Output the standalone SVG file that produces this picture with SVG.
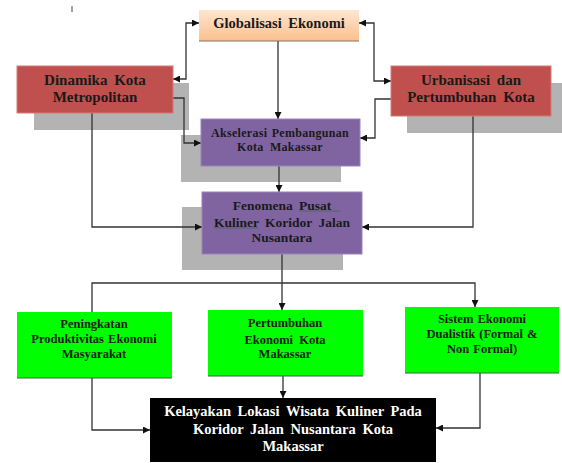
<svg xmlns="http://www.w3.org/2000/svg" width="562" height="463" viewBox="0 0 562 463">
<style>
.t{font-family:"Liberation Serif","Times New Roman",serif;font-weight:bold;fill:#1a1a1a;text-anchor:middle;word-spacing:3px}
.w{fill:#ffffff}
.sh{fill:#b3b3b3}
.red{fill:#c0504d;stroke:#d47a77;stroke-width:1}
.pur{fill:#8064a2;stroke:#9a84b8;stroke-width:1}
.grn{fill:#00ff00}
.c{fill:none;stroke:#333333;stroke-width:1.3}
</style>
<defs>
<linearGradient id="peach" x1="0" y1="0" x2="0" y2="1">
<stop offset="0" stop-color="#fee6d0"/>
<stop offset="1" stop-color="#fbc08d"/>
</linearGradient>
<marker id="ah" viewBox="0 0 10 10" refX="10" refY="5" markerWidth="7" markerHeight="7" markerUnits="userSpaceOnUse" orient="auto-start-reverse">
<path d="M0,0 L10,5 L0,10 z" fill="#111"/>
</marker>
</defs>
<line x1="72" y1="6" x2="72" y2="12" stroke="#444" stroke-width="1"/>
<g id="shadows">
<rect class="sh" x="34" y="83" width="155" height="47"/>
<rect class="sh" x="407" y="83" width="155" height="50"/>
<rect class="sh" x="181" y="135" width="160" height="47"/>
<rect class="sh" x="182" y="207" width="161" height="63"/>
</g>
<g id="connectors">
<polyline class="c" points="199,23 186,23 186,79 173,79" marker-start="url(#ah)" marker-end="url(#ah)"/>
<polyline class="c" points="359,23 374,23 374,81 391,81" marker-start="url(#ah)" marker-end="url(#ah)"/>
<polyline class="c" points="278,41 278,119" marker-end="url(#ah)"/>
<polyline class="c" points="173,98 184,98 184,143 201,143" marker-end="url(#ah)"/>
<polyline class="c" points="391,99 375,99 375,138 360,138" marker-end="url(#ah)"/>
<polyline class="c" points="279,166 279,192" marker-end="url(#ah)"/>
<polyline class="c" points="92,113 92,227 202,227" marker-end="url(#ah)"/>
<polyline class="c" points="473,116 473,227 362,227" marker-end="url(#ah)"/>
<polyline class="c" points="282,254 282,310" marker-end="url(#ah)"/>
<polyline class="c" points="92,312 92,283 475,283 475,307" marker-end="url(#ah)"/>
<polyline class="c" points="92,378 92,430 150,430" marker-end="url(#ah)"/>
<polyline class="c" points="283,376 283,398" marker-end="url(#ah)"/>
<polyline class="c" points="480,373 480,428 436,428" marker-end="url(#ah)"/>
</g>
<g id="globalisasi">
<rect x="199" y="10" width="160" height="31" fill="url(#peach)"/>
<line x1="199" y1="41" x2="359" y2="41" stroke="#8a7060" stroke-width="1"/>
<text class="t" x="279" y="28" font-size="14.5">Globalisasi Ekonomi</text>
</g>
<g id="dinamika">
<rect class="red" x="17" y="66" width="156" height="47"/>
<text class="t" x="95" y="85" font-size="15">Dinamika Kota</text>
<text class="t" x="95" y="102" font-size="15">Metropolitan</text>
</g>
<g id="urbanisasi">
<rect class="red" x="391" y="66" width="160" height="50"/>
<text class="t" x="471" y="85" font-size="15">Urbanisasi dan</text>
<text class="t" x="471" y="102" font-size="15">Pertumbuhan Kota</text>
</g>
<g id="akselerasi">
<rect class="pur" x="201" y="119" width="159" height="47"/>
<text class="t" x="280" y="137" font-size="12" style="letter-spacing:0.3px;word-spacing:1px">Akselerasi Pembangunan</text>
<text class="t" x="280" y="151" font-size="12" style="letter-spacing:0.3px">Kota Makassar</text>
</g>
<g id="fenomena">
<rect class="pur" x="202" y="192" width="160" height="62"/>
<text class="t" x="282" y="210" font-size="13.5">Fenomena Pusat</text>
<text class="t" x="282" y="227" font-size="13.5">Kuliner Koridor Jalan</text>
<text class="t" x="282" y="242" font-size="13.5">Nusantara</text>
<line x1="299" y1="211" x2="340" y2="211" stroke="#4a6a5a" stroke-width="1"/>
<line x1="214" y1="228" x2="258" y2="228" stroke="#4a6a5a" stroke-width="1"/>
</g>
<g id="peningkatan">
<rect class="grn" x="17" y="312" width="155" height="66"/>
<line x1="17" y1="378" x2="172" y2="378" stroke="#3a6a3a" stroke-width="1"/>
<text class="t" x="94" y="328" font-size="12.5" style="word-spacing:1px">Peningkatan</text>
<text class="t" x="94" y="343" font-size="12.5" style="word-spacing:1px">Produktivitas Ekonomi</text>
<text class="t" x="94" y="358" font-size="12.5">Masyarakat</text>
</g>
<g id="pertumbuhan">
<rect class="grn" x="208" y="310" width="155" height="66"/>
<line x1="208" y1="376" x2="363" y2="376" stroke="#3a6a3a" stroke-width="1"/>
<text class="t" x="285" y="327" font-size="12.5">Pertumbuhan</text>
<text class="t" x="285" y="344" font-size="12.5">Ekonomi Kota</text>
<text class="t" x="285" y="358" font-size="12.5">Makassar</text>
</g>
<g id="sistem">
<rect class="grn" x="405" y="307" width="154" height="66"/>
<line x1="405" y1="373" x2="559" y2="373" stroke="#3a6a3a" stroke-width="1"/>
<text class="t" x="482" y="323" font-size="12.5" style="word-spacing:1px">Sistem Ekonomi</text>
<text class="t" x="482" y="338" font-size="12.5" style="word-spacing:1px">Dualistik (Formal &amp;</text>
<text class="t" x="482" y="353" font-size="12.5" style="word-spacing:1px">Non Formal)</text>
</g>
<g id="kelayakan">
<rect x="150" y="398" width="286" height="64" fill="#000"/>
<text class="t w" x="293" y="416" font-size="14.5">Kelayakan Lokasi Wisata Kuliner Pada</text>
<text class="t w" x="293" y="434" font-size="14.5">Koridor Jalan Nusantara Kota</text>
<text class="t w" x="293" y="451" font-size="14.5">Makassar</text>
</g>
</svg>
